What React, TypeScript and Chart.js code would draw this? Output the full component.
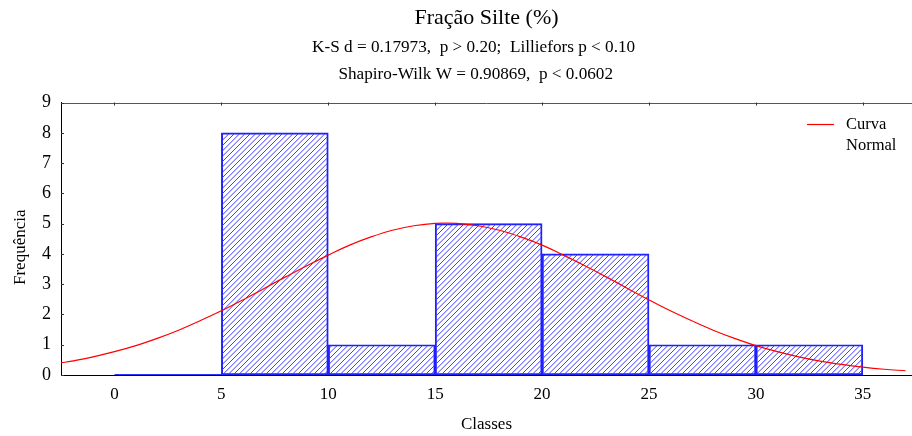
import React, { useEffect, useRef } from 'react';
import Chart from 'chart.js/auto';

// ---- data ----
const BIN_EDGES = [0, 5, 10, 15, 20, 25, 30, 35];
const BIN_COUNTS = [0, 8, 1, 5, 4, 1, 1];

const CURVE_X = [-2.5, -2, -1, 0, 1, 2, 3, 4, 5, 6, 7, 8, 9, 10, 11, 12, 13, 14, 15, 16, 17, 18, 19, 20, 21, 22, 23, 24, 25, 26, 27, 28, 29, 30, 31, 32, 33, 34, 35, 36, 37];
const CURVE_Y = [0.40, 0.46, 0.60, 0.77, 0.97, 1.21, 1.48, 1.79, 2.12, 2.48, 2.86, 3.24, 3.61, 3.96, 4.29, 4.56, 4.78, 4.93, 5.01, 5.01, 4.93, 4.78, 4.56, 4.29, 3.96, 3.61, 3.24, 2.86, 2.48, 2.12, 1.79, 1.48, 1.21, 0.97, 0.77, 0.60, 0.46, 0.35, 0.26, 0.19, 0.14];

const X_TICKS = [0, 5, 10, 15, 20, 25, 30, 35];
const Y_TICKS = [0, 1, 2, 3, 4, 5, 6, 7, 8, 9];

const TITLE = 'Fração Silte (%)';
const SUBTITLE = [
  'K-S d = 0.17973,  p > 0.20;  Lilliefors p < 0.10',
  'Shapiro-Wilk W = 0.90869,  p < 0.0602',
];
const X_TITLE = 'Classes';
const Y_TITLE = 'Frequência';
const LEGEND_LINES = ['Curva', 'Normal'];

const SERIF = "'Liberation Serif', 'Times New Roman', serif";

// trailing blanks only nudge the centred text sideways, as in the reference
const padRight = (t: string, n: number) => t + ' '.repeat(n);

function makeHatch(): CanvasPattern | string {
  const s = 16;
  const c = document.createElement('canvas');
  c.width = s;
  c.height = s;
  const g = c.getContext('2d');
  if (!g) return '#5555ff';
  g.strokeStyle = '#3c3cff';
  g.lineWidth = 1;
  for (let k = -1; k <= 7; k++) {
    const v = (k * s) / 3;
    g.beginPath();
    g.moveTo(v + 2, -2);
    g.lineTo(-2, v + 2);
    g.stroke();
  }
  const p = g.createPattern(c, 'repeat');
  return p || '#5555ff';
}

const framePlugin = {
  id: 'frameAndLegend',
  afterDraw(chart: any) {
    const { ctx, chartArea } = chart;
    const xs = chart.scales.x;
    const ys = chart.scales.y;
    ctx.save();
    // top border
    ctx.strokeStyle = '#555';
    ctx.lineWidth = 1;
    ctx.beginPath();
    ctx.moveTo(chartArea.left, Math.round(chartArea.top) + 0.5);
    ctx.lineTo(chartArea.right, Math.round(chartArea.top) + 0.5);
    ctx.stroke();
    // top ticks
    ctx.strokeStyle = '#333';
    X_TICKS.forEach((v) => {
      const px = Math.round(xs.getPixelForValue(v)) + 0.5;
      ctx.beginPath();
      ctx.moveTo(px, chartArea.top);
      ctx.lineTo(px, chartArea.top + 3);
      ctx.stroke();
    });
    // left ticks
    Y_TICKS.forEach((v) => {
      const py = Math.round(ys.getPixelForValue(v)) + 0.5;
      ctx.beginPath();
      ctx.moveTo(chartArea.left, py);
      ctx.lineTo(chartArea.left + 3, py);
      ctx.stroke();
    });
    // legend
    const lx = chartArea.right - 105;
    const ly = chartArea.top + 22;
    ctx.strokeStyle = '#ff0000';
    ctx.lineWidth = 1.2;
    ctx.beginPath();
    ctx.moveTo(lx, ly);
    ctx.lineTo(lx + 27, ly);
    ctx.stroke();
    ctx.fillStyle = '#000';
    ctx.font = `16.5px ${SERIF}`;
    ctx.textAlign = 'left';
    ctx.textBaseline = 'middle';
    LEGEND_LINES.forEach((t, i) => {
      ctx.fillText(t, lx + 39, ly + i * 21);
    });
    ctx.restore();
  },
};

export default function App() {
  const ref = useRef<HTMLCanvasElement>(null);
  useEffect(() => {
    document.body.style.margin = '0';
    const canvas = ref.current;
    if (!canvas) return;
    const hatch = makeHatch();
    const bars = BIN_COUNTS.map((c, i) => ({ x: (BIN_EDGES[i] + BIN_EDGES[i + 1]) / 2, y: c }));
    const zeroSegments: any[] = [];
    BIN_COUNTS.forEach((c, i) => {
      if (c === 0) {
        zeroSegments.push({ x: BIN_EDGES[i], y: 0 }, { x: BIN_EDGES[i + 1], y: 0 });
      }
    });
    const curve = CURVE_X.map((x, i) => ({ x, y: CURVE_Y[i] }));

    const chart = new Chart(canvas, {
      type: 'bar',
      data: {
        datasets: [
          {
            type: 'line',
            label: 'Curva Normal',
            data: curve,
            borderColor: '#ff0000',
            borderWidth: 1.2,
            pointRadius: 0,
            tension: 0.4,
            fill: false,
            order: 0,
          } as any,
          {
            type: 'line',
            label: 'zero',
            data: zeroSegments,
            borderColor: '#3030ff',
            borderWidth: 2,
            pointRadius: 0,
            fill: false,
            order: 1,
          } as any,
          {
            type: 'bar',
            label: 'Frequência',
            data: bars,
            backgroundColor: hatch as any,
            borderColor: '#1f1fff',
            borderWidth: 1.3,
            borderSkipped: false,
            barPercentage: 1,
            categoryPercentage: 1,
            order: 2,
          } as any,
        ],
      },
      options: {
        responsive: false,
        animation: false,
        layout: { padding: 0 },
        plugins: {
          legend: { display: false },
          tooltip: { enabled: false },
          title: {
            display: true,
            text: TITLE,
            fullSize: false,
            color: '#000',
            font: { family: SERIF, size: 22, weight: 'normal', lineHeight: 1.2 },
            padding: { top: 4.8, bottom: 0 },
          },
          subtitle: {
            display: true,
            text: [padRight(SUBTITLE[0], 6), padRight(SUBTITLE[1], 5)],
            fullSize: false,
            color: '#000',
            font: { family: SERIF, size: 17.2, weight: 'normal', lineHeight: 27 / 17.2 },
            padding: { top: 2.3, bottom: 15 },
          },
        },
        scales: {
          x: {
            type: 'linear',
            min: -2.5,
            max: 37.3,
            bounds: 'data',
            offset: false,
            grid: { display: false, drawTicks: false, offset: false },
            border: { display: true, color: '#000', width: 1 },
            ticks: {
              includeBounds: false,
              color: '#000',
              padding: 9,
              font: { family: SERIF, size: 17 },
              maxRotation: 0,
              autoSkip: false,
            },
            afterBuildTicks: (scale: any) => {
              scale.ticks = X_TICKS.map((v) => ({ value: v }));
            },
            afterFit: (scale: any) => {
              scale.height = 61;
            },
            title: {
              display: true,
              text: X_TITLE,
              color: '#000',
              font: { family: SERIF, size: 17, lineHeight: 1.2 },
              padding: { top: 0, bottom: 1 },
            },
          },
          y: {
            type: 'linear',
            min: 0,
            max: 9,
            bounds: 'data',
            grid: { display: false, drawTicks: false },
            border: { display: true, color: '#000', width: 1 },
            ticks: {
              stepSize: 1,
              color: '#000',
              padding: 10,
              font: { family: SERIF, size: 18 },
            },
            afterBuildTicks: (scale: any) => {
              scale.ticks = Y_TICKS.map((v) => ({ value: v }));
            },
            afterFit: (scale: any) => {
              scale.width = 61;
            },
            title: {
              display: true,
              text: padRight(Y_TITLE, 4),
              color: '#000',
              font: { family: SERIF, size: 17, lineHeight: 1.2 },
              padding: { top: 10, bottom: 0 },
            },
          },
        },
      },
      plugins: [framePlugin],
    });
    return () => chart.destroy();
  }, []);
  return (
    <div style={{ width: 912, height: 436 }}>
      <canvas ref={ref} width={912} height={436} style={{ display: 'block' }} />
    </div>
  );
}
